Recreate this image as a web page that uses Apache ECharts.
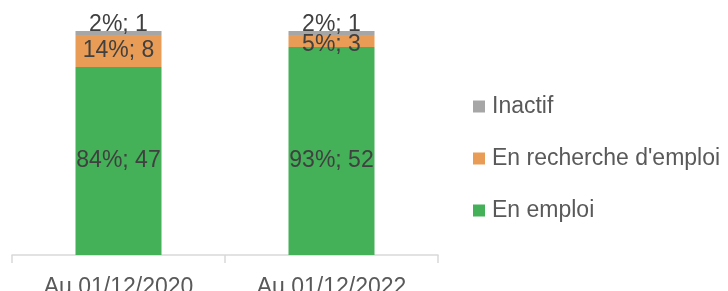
<!DOCTYPE html>
<html>
<head>
<meta charset="utf-8">
<script src="https://cdn.jsdelivr.net/npm/echarts@6/dist/echarts.min.js"></script>
<style>
  html, body { margin: 0; padding: 0; background: #fff; }
  #chart { width: 728px; height: 291px; }
</style>
</head>
<body>
<div id="chart"></div>
<script>
// categories and counts
var categories = ['Au 01/12/2020', 'Au 01/12/2022'];
var enEmploi = [47, 52];
var enRecherche = [8, 3];
var inactif = [1, 1];
var seriesNames = ['En emploi', "En recherche d'emploi", 'Inactif'];

var totals = categories.map(function (c, i) {
    return enEmploi[i] + enRecherche[i] + inactif[i];
});

var chart = echarts.init(document.getElementById('chart'));

// 100% stacked: value is the share, label shows "pct%; count"
function buildData(counts, offsets) {
    return counts.map(function (v, i) {
        var item = { value: v / totals[i] * 100, count: v };
        if (offsets && offsets[i]) {
            item.label = { offset: offsets[i] };
        }
        return item;
    });
}

function labelFmt(p) {
    return Math.round(p.value) + '%; ' + p.data.count;
}

var labelStyle = {
    show: true,
    position: 'inside',
    fontFamily: 'Liberation Sans',
    fontSize: 23,
    color: '#404040',
    formatter: labelFmt
};

chart.setOption({
    animation: false,
    textStyle: { fontFamily: 'Liberation Sans' },
    grid: {
        left: 12,
        right: 290,
        top: 31,
        bottom: 36,
        outerBoundsMode: 'none',
        containLabel: false
    },
    legend: {
        orient: 'vertical',
        left: 468,
        top: 90,
        itemWidth: 12,
        itemHeight: 12,
        itemGap: 29,
        icon: 'rect',
        data: ['Inactif', "En recherche d'emploi", 'En emploi'],
        textStyle: {
            fontFamily: 'Liberation Sans',
            fontSize: 23,
            color: '#595959',
            padding: [0, 0, 0, 2]
        }
    },
    xAxis: {
        type: 'category',
        data: categories,
        axisLine: { lineStyle: { color: '#D9D9D9', width: 1.5 } },
        axisTick: { show: true, length: 8, lineStyle: { color: '#D9D9D9', width: 1.5 } },
        axisLabel: {
            fontFamily: 'Liberation Sans',
            fontSize: 23,
            color: '#595959',
            margin: 21
        }
    },
    yAxis: {
        type: 'value',
        min: 0,
        max: 100,
        show: false,
        splitLine: { show: false }
    },
    series: [
        {
            name: seriesNames[0],
            type: 'bar',
            stack: 'total',
            barWidth: 86,
            itemStyle: { color: '#44B058' },
            label: labelStyle,
            data: buildData(enEmploi, [null, [0, 10]])
        },
        {
            name: seriesNames[1],
            type: 'bar',
            stack: 'total',
            itemStyle: { color: '#E99C56' },
            label: labelStyle,
            data: buildData(enRecherche, [null, [0, 4]])
        },
        {
            name: seriesNames[2],
            type: 'bar',
            stack: 'total',
            itemStyle: { color: '#A6A6A6' },
            label: labelStyle,
            data: buildData(inactif, [[0, -8], [0, -8]])
        }
    ]
});
</script>
</body>
</html>
